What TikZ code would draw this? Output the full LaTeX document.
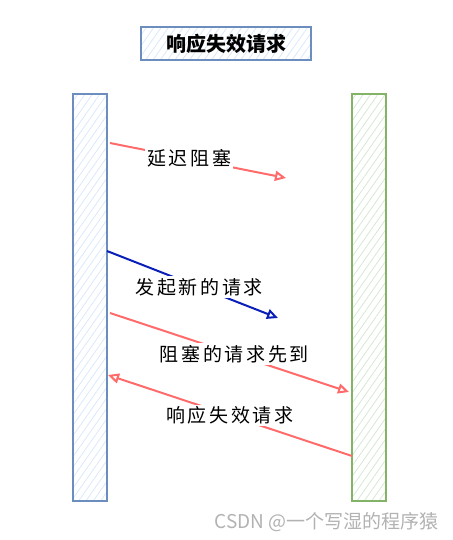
\documentclass[tikz,border=0pt]{standalone}
\usepackage{fontspec}
\setmainfont{Noto Sans CJK SC}
\newfontfamily\labelfont[LetterSpace=14]{Noto Sans CJK SC}
\usetikzlibrary{arrows.meta, patterns.meta}
\definecolor{barblue}{HTML}{6C8EBF}
\definecolor{hatchblue}{HTML}{DAE8FC}
\definecolor{bargreen}{HTML}{82B366}
\definecolor{hatchgreen}{HTML}{D5E8D4}
\definecolor{msgred}{HTML}{FF6B6B}
\definecolor{msgblue}{HTML}{0A1FB8}
\tikzset{>={Triangle[open,length=11pt,width=10pt]}}
\tikzset{
  hatched/.style={pattern={Lines[angle=55,distance=6pt,line width=0.8pt]}},
  clientbar/.style={draw=barblue, line width=2.4pt, hatched, pattern color=hatchblue,
    minimum width=34pt, minimum height=407pt, inner sep=0pt},
  serverbar/.style={draw=bargreen, line width=2.2pt, hatched, pattern color=hatchgreen,
    minimum width=34pt, minimum height=407pt, inner sep=0pt},
  msg/.style={->, line width=2pt},
  msglabel/.style={fill=white, text=black, inner sep=2pt, font=\labelfont\fontsize{19}{19}\selectfont}
}
\begin{document}
\begin{tikzpicture}[x=1pt, y=-1pt]
  \useasboundingbox (0,0) rectangle (452,540);
  % title
  \node[draw=barblue, line width=2pt, hatched, pattern color=hatchblue,
    minimum width=170pt, minimum height=33pt, font=\bfseries\fontsize{20}{20}\selectfont]
    (title) at (226,44) {响应失效请求};
  % participants
  \node[clientbar] (client) at (90,297.5) {};
  \node[serverbar] (server) at (369,297.5) {};
  % message end points
  \coordinate (a1) at (110,143);  \coordinate (b1) at (286,178);
  \coordinate (a2) at (107,251);  \coordinate (b2) at (278,318);
  \coordinate (a3) at (110,313);  \coordinate (b3) at (349,392);
  \coordinate (a4) at (352,456);  \coordinate (b4) at (108,375);
  % messages
  \draw[msg, msgred] (a1) -- node[msglabel, pos=0.45]{延迟阻塞} (b1);
  \draw[msg, msgblue] (a2) -- node[msglabel, pos=0.54]{发起新的请求} (b2);
  \draw[msg, msgred] (a3) -- node[msglabel, pos=0.52]{阻塞的请求先到} (b3);
  \draw[msg, msgred] (a4) -- node[msglabel, pos=0.5]{响应失效请求} (b4);
  % watermark
  \node[text=black!30, font=\fontsize{19}{19}\selectfont, anchor=east] (mark) at (442,522) {CSDN @一个写湿的程序猿};
\end{tikzpicture}
\end{document}
